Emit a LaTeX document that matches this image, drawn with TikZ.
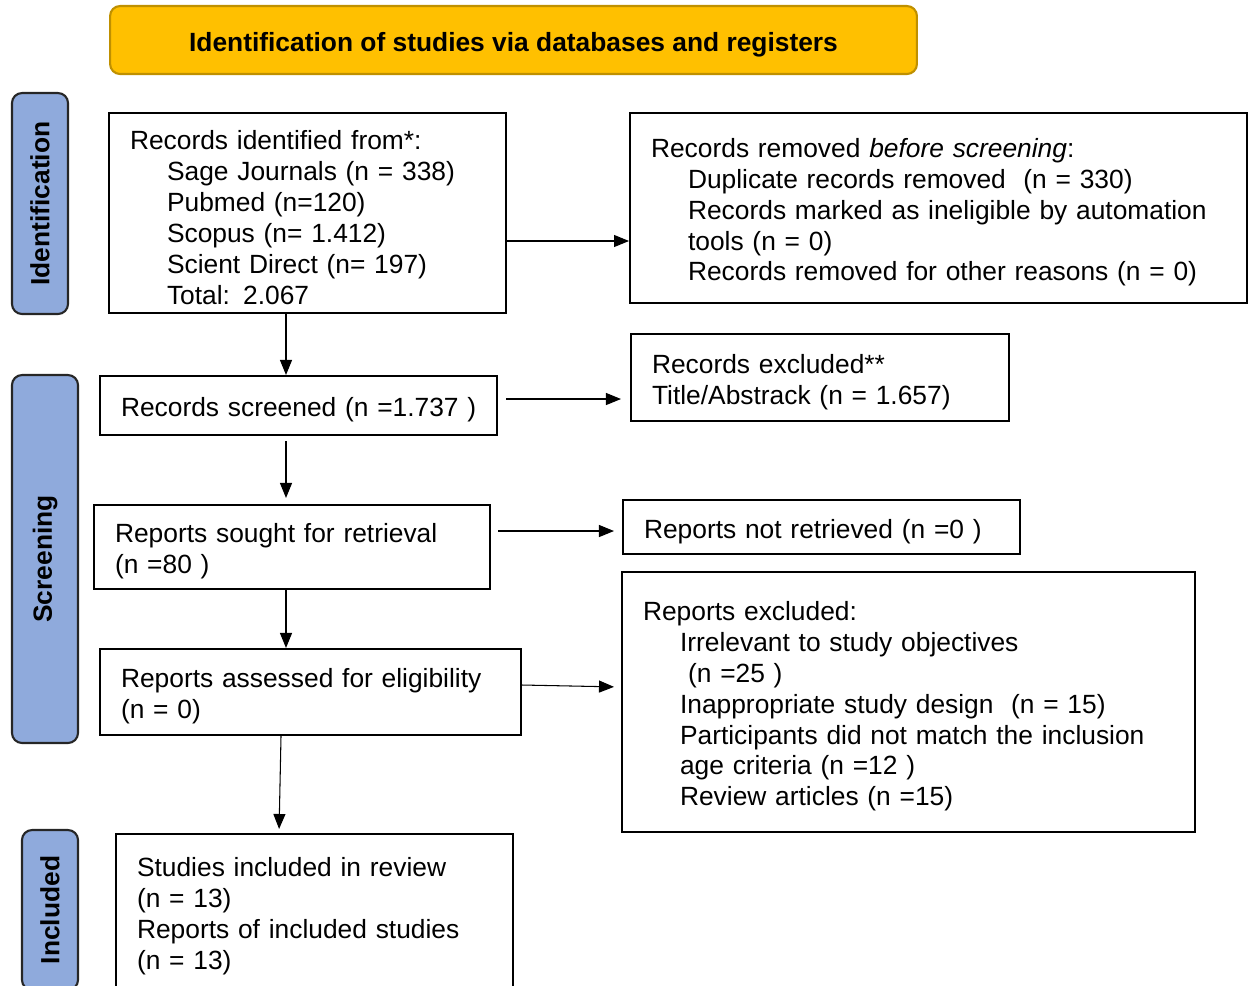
\documentclass[tikz,border=0pt]{standalone}
\usepackage{fontspec}
\setmainfont{Liberation Sans}
\usetikzlibrary{
	arrows.meta,
	positioning
}
\definecolor{prismaYellow}{HTML}{FFC000}
\definecolor{prismaGold}{HTML}{BF9000}
\definecolor{prismaBlue}{HTML}{8FAADC}

\begin{document}
\begin{tikzpicture}
[x=0.02cm,y=-0.02cm,
box/.style={rectangle,draw=black,line width=1.2pt,align=left,inner xsep=0.42cm,inner ysep=0pt,font=\fontsize{15}{17.6}\selectfont,execute at begin node={\rule{0pt}{1.05em}}},
phase/.style={rectangle,rounded corners=0.2cm,draw=black!85,fill=prismaBlue,line width=1.2pt,rotate=90,inner sep=0pt,font=\fontsize{15}{17.6}\selectfont\bfseries},
banner/.style={rectangle,rounded corners=0.2cm,draw=prismaGold,fill=prismaYellow,line width=1.2pt,font=\fontsize{15}{17.6}\selectfont\bfseries,execute at begin node={\rule{0pt}{1.05em}}},
flow/.style={-{Triangle[length=0.3cm,width=0.24cm]},line width=0.6pt}]
\useasboundingbox (0,0) rectangle (1253,985);
\clip (0,0) rectangle (1253,985);
% title and phases
\node (title) at (513.5,40) [banner,minimum width=16.14cm,minimum height=1.36cm] {Identification of studies via databases and registers};
\node (ident) at (40,203.5) [phase,minimum width=4.42cm,minimum height=1.12cm] {Identification};
\node (screen) at (45,559) [phase,minimum width=7.36cm,minimum height=1.32cm] {Screening};
\node (incl) at (50,910) [phase,minimum width=3.2cm,minimum height=1.12cm] {Included};
% boxes
\node (recid) at (307.5,213) [box,text width=7.1cm,minimum height=4cm]
{Records identified from*:\\
\hspace*{0.74cm}Sage Journals (n = 338)\\
\hspace*{0.74cm}Pubmed (n=120)\\
\hspace*{0.74cm}Scopus (n= 1.412)\\
\hspace*{0.74cm}Scient Direct (n= 197)\\
\hspace*{0.74cm}Total: 2.067};
\node (recrem) at (938.5,208) [box,text width=11.5cm,minimum height=3.8cm]
{Records removed \textit{before screening}:\\
\hspace*{0.74cm}Duplicate records removed\ \ (n = 330)\\
\hspace*{0.74cm}Records marked as ineligible by automation\\
\hspace*{0.74cm}tools (n = 0)\\
\hspace*{0.74cm}Records removed for other reasons (n = 0)};
\node (recscr) at (298.5,405.5) [box,text width=7.1cm,minimum height=1.18cm] {\mbox{Records screened (n =1.737 )}};
\node (recexc) at (820,377.5) [box,text width=6.72cm,minimum height=1.74cm] {Records excluded**\\Title/Abstrack (n = 1.657)};
\node (repsou) at (292,547) [box,text width=7.08cm,minimum height=1.68cm] {Reports sought for retrieval\\(n =80 )};
\node (repnot) at (821.5,527) [box,text width=7.1cm,minimum height=1.08cm] {Reports not retrieved (n =0 )};
\node (repass) at (310.5,692) [box,text width=7.58cm,minimum height=1.72cm] {Reports assessed for eligibility\\(n = 0)};
\node (repexc) at (908.5,702) [box,text width=10.62cm,minimum height=5.2cm]
{Reports excluded:\\
\hspace*{0.74cm}Irrelevant to study objectives\\
\hspace*{0.9cm}(n =25 )\\
\hspace*{0.74cm}Inappropriate study design\ \ (n = 15)\\
\hspace*{0.74cm}Participants did not match the inclusion\\
\hspace*{0.74cm}age criteria (n =12 )\\
\hspace*{0.74cm}Review articles (n =15)};
\node (studinc) at (314.5,912) [box,text width=7.1cm,minimum height=3.12cm]
{Studies included in review\\(n = 13)\\Reports of included studies\\(n = 13)};
% connectors
\draw[flow] ([xshift=-0.43cm]recid.south) -- ([xshift=-0.43cm]recid.south |- recscr.north);
\draw[flow] ([yshift=-0.56cm]recid.east) -- ([yshift=-0.56cm]recid.east -| recrem.west);
\draw[flow,shorten <=0.16cm,shorten >=0.18cm] ([yshift=0.13cm]recscr.east) -- ([yshift=0.13cm]recscr.east -| recexc.west);
\draw[flow,shorten <=0.1cm,shorten >=0.12cm] ([xshift=-0.25cm]recscr.south) -- ([xshift=-0.25cm]recscr.south |- repsou.north);
\draw[flow,shorten <=0.14cm,shorten >=0.16cm] ([yshift=0.32cm]repsou.east) -- ([yshift=0.32cm]repsou.east -| repnot.west);
\draw[flow] ([xshift=-0.12cm]repsou.south) -- ([xshift=-0.12cm]repsou.south |- repass.north);
\draw[flow,shorten >=0.14cm] ([yshift=0.14cm]repass.east) -- ([yshift=0.3cm]repexc.west);
\draw[flow,shorten >=0.08cm] ([xshift=-0.59cm]repass.south) -- ([xshift=-0.71cm]studinc.north);
\end{tikzpicture}
\end{document}
